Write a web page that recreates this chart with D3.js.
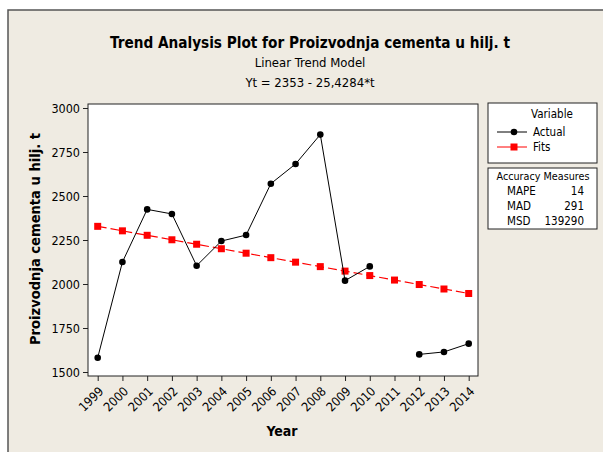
<!DOCTYPE html>
<html>
<head>
<meta charset="utf-8">
<script src="https://cdn.jsdelivr.net/npm/d3@7"></script>
<style>
  body { margin: 0; background: #fff; }
  text { font-family: "DejaVu Sans Condensed", "DejaVu Sans", sans-serif; }
</style>
</head>
<body>
<svg id="chart" width="603" height="452"></svg>
<script>
const years = [1999, 2000, 2001, 2002, 2003, 2004, 2005, 2006, 2007, 2008, 2009, 2010, 2011, 2012, 2013, 2014]
// actual production, 2011 is missing
const actual = [1581, 2125, 2424, 2398, 2104, 2244, 2278, 2570, 2682, 2849, 2019, 2100, null, 1600, 1614, 1661]
// fitted trend values (Yt = 2353 - 25,4284*t)
const fits = [2327.6, 2302.1, 2276.7, 2251.3, 2225.9, 2200.4, 2175.0, 2149.6, 2124.1, 2098.7, 2073.3, 2047.9, 2022.4, 1997.0, 1971.6, 1946.1]
const yTicks = [1500, 1750, 2000, 2250, 2500, 2750, 3000]
const measures = [['MAPE', '14'], ['MAD', '291'], ['MSD', '139290']]

const svg = d3.select('#chart')
const BG = '#efebe2'

// panel background
svg.append('rect').attr('x', 8).attr('y', 10).attr('width', 600).attr('height', 450)
  .attr('fill', BG).attr('stroke', '#555').attr('stroke-width', 1.5)

const plot = { left: 88, top: 104, right: 478, bottom: 376 }

const x = d3.scalePoint().domain(years).range([97.7, 468.7])
const y = d3.scaleLinear().domain([1500, 3000]).range([372, 108])

svg.append('rect')
  .attr('x', plot.left).attr('y', plot.top)
  .attr('width', plot.right - plot.left).attr('height', plot.bottom - plot.top)
  .attr('fill', '#fff').attr('stroke', '#222').attr('stroke-width', 1)

// axes
const gy = svg.append('g').attr('transform', `translate(${plot.left},0)`)
  .call(d3.axisLeft(y).tickValues(yTicks).tickSize(5).tickPadding(3).tickFormat(d3.format('d')))
gy.select('.domain').remove()
gy.selectAll('line').attr('stroke', '#222')
gy.selectAll('text').attr('font-size', 12.5).attr('fill', '#000')

const gx = svg.append('g').attr('transform', `translate(0,${plot.bottom})`)
  .call(d3.axisBottom(x).tickSize(5).tickPadding(2).tickFormat(d3.format('d')))
gx.select('.domain').remove()
gx.selectAll('line').attr('stroke', '#222')
gx.selectAll('text')
  .attr('font-size', 12.5).attr('fill', '#000')
  .attr('text-anchor', 'end')
  .attr('dy', '0.35em')
  .attr('transform', 'translate(3,13) rotate(-45)')
  .attr('x', 0).attr('y', 0)

// fits (red dashed with squares)
const fitLine = d3.line().x((d, i) => x(years[i])).y(d => y(d))
svg.append('path').datum(fits)
  .attr('d', fitLine).attr('fill', 'none')
  .attr('stroke', '#ff0000').attr('stroke-width', 1.2).attr('stroke-dasharray', '9,4')
svg.append('g').selectAll('rect').data(fits).join('rect')
  .attr('x', (d, i) => x(years[i]) - 3.5).attr('y', d => y(d) - 3.5)
  .attr('width', 7).attr('height', 7).attr('fill', '#ff0000')

// actual (black solid with dots)
const actLine = d3.line().defined(d => d != null).x((d, i) => x(years[i])).y(d => y(d))
svg.append('path').datum(actual)
  .attr('d', actLine).attr('fill', 'none')
  .attr('stroke', '#000').attr('stroke-width', 1)
svg.append('g').selectAll('circle').data(actual.map((v, i) => [years[i], v]).filter(d => d[1] != null)).join('circle')
  .attr('cx', d => x(d[0])).attr('cy', d => y(d[1])).attr('r', 3.3).attr('fill', '#000')

// titles
svg.append('text').attr('x', 310).attr('y', 48).attr('text-anchor', 'middle')
  .attr('font-size', 16).attr('font-weight', 'bold')
  .attr('textLength', 400).attr('lengthAdjust', 'spacingAndGlyphs')
  .text('Trend Analysis Plot for Proizvodnja cementa u hilj. t')
svg.append('text').attr('x', 310).attr('y', 67).attr('text-anchor', 'middle')
  .attr('font-size', 13).text('Linear Trend Model')
svg.append('text').attr('x', 310).attr('y', 87).attr('text-anchor', 'middle')
  .attr('font-size', 13).text('Yt = 2353 - 25,4284*t')

// axis titles
svg.append('text').attr('x', 282).attr('y', 436).attr('text-anchor', 'middle')
  .attr('font-size', 14).attr('font-weight', 'bold').text('Year')
svg.append('text').attr('transform', 'translate(40,239) rotate(-90)').attr('text-anchor', 'middle')
  .attr('font-size', 14).attr('font-weight', 'bold')
  .attr('textLength', 212).attr('lengthAdjust', 'spacingAndGlyphs')
  .text('Proizvodnja cementa u hilj. t')

// legend
const lg = svg.append('g')
lg.append('rect').attr('x', 488).attr('y', 103).attr('width', 109).attr('height', 60)
  .attr('fill', '#fff').attr('stroke', '#222')
lg.append('text').attr('x', 552).attr('y', 118).attr('text-anchor', 'middle').attr('font-size', 11.5).text('Variable')
lg.append('line').attr('x1', 497).attr('x2', 527).attr('y1', 132).attr('y2', 132).attr('stroke', '#000')
lg.append('circle').attr('cx', 514).attr('cy', 132).attr('r', 3.3).attr('fill', '#000')
lg.append('text').attr('x', 533).attr('y', 136).attr('font-size', 11.5).text('Actual')
lg.append('line').attr('x1', 497).attr('x2', 527).attr('y1', 147).attr('y2', 147).attr('stroke', '#ff0000')
lg.append('rect').attr('x', 510.5).attr('y', 143.5).attr('width', 7).attr('height', 7).attr('fill', '#ff0000')
lg.append('text').attr('x', 533).attr('y', 151).attr('font-size', 11.5).text('Fits')

const mg = svg.append('g')
mg.append('rect').attr('x', 488).attr('y', 168).attr('width', 109).attr('height', 61)
  .attr('fill', '#fff').attr('stroke', '#222')
mg.append('text').attr('x', 543).attr('y', 180).attr('text-anchor', 'middle').attr('font-size', 11)
  .attr('textLength', 93).attr('lengthAdjust', 'spacingAndGlyphs').text('Accuracy Measures')
mg.selectAll('text.m').data(measures).join('text').attr('class', 'm')
  .attr('x', 507).attr('y', (d, i) => 195 + i * 15).attr('font-size', 11.5).text(d => d[0])
mg.selectAll('text.v').data(measures).join('text').attr('class', 'v')
  .attr('x', 584).attr('y', (d, i) => 195 + i * 15).attr('text-anchor', 'end').attr('font-size', 11.5).text(d => d[1])
</script>
</body>
</html>
